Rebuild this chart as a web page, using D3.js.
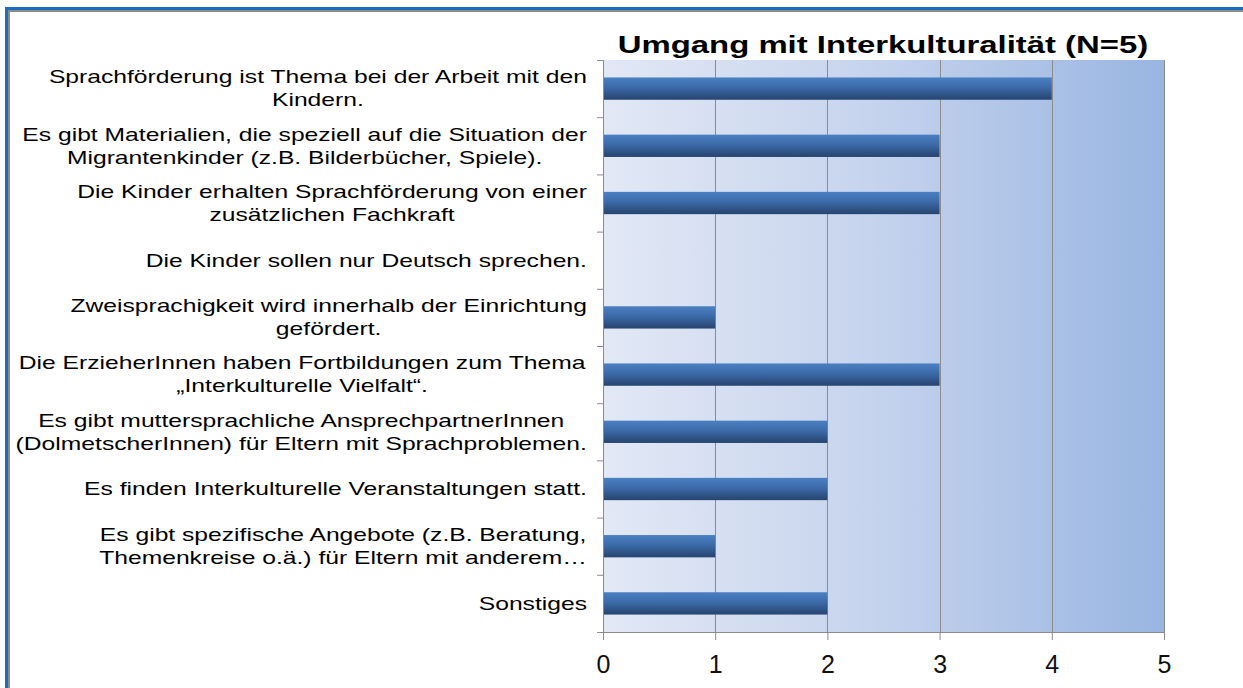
<!DOCTYPE html>
<html>
<head>
<meta charset="utf-8">
<script src="https://cdn.jsdelivr.net/npm/d3@7"></script>
<style>
  body { margin: 0; background: #fff; }
  svg { display: block; font-family: "Liberation Sans", Arial, sans-serif; }
</style>
</head>
<body>
<div id="chart"></div>
<script>
// Chart data
const chartTitle = 'Umgang mit Interkulturalität (N=5)';
const categories = [
  'Sprachförderung ist Thema bei der Arbeit mit den\nKindern.',
  'Es gibt Materialien, die speziell auf die Situation der\nMigrantenkinder (z.B. Bilderbücher, Spiele).',
  'Die Kinder erhalten Sprachförderung von einer\nzusätzlichen Fachkraft',
  'Die Kinder sollen nur Deutsch sprechen.',
  'Zweisprachigkeit wird innerhalb der Einrichtung\ngefördert.',
  'Die ErzieherInnen haben Fortbildungen zum Thema\n„Interkulturelle Vielfalt“.',
  'Es gibt muttersprachliche AnsprechpartnerInnen\n(DolmetscherInnen) für Eltern mit Sprachproblemen.',
  'Es finden Interkulturelle Veranstaltungen statt.',
  'Es gibt spezifische Angebote (z.B. Beratung,\nThemenkreise o.ä.) für Eltern mit anderem…',
  'Sonstiges',
];
const values = [4, 3, 3, 0, 1, 3, 2, 2, 1, 2];
const xTicks = [0, 1, 2, 3, 4, 5];

const width = 1243;
const height = 688;
const plot = { left: 603, right: 1164, top: 60, bottom: 632 };
const GRID_COLOR = '#8c8c8c';
const LABEL_STRETCH = 1.37; // reference text is drawn horizontally stretched
const TITLE_STRETCH = 1.37;

const svg = d3
  .select('#chart')
  .append('svg')
  .attr('width', width)
  .attr('height', height);

const defs = svg.append('defs');

// Plot area background: light to darker blue, left to right
const bgGrad = defs
  .append('linearGradient')
  .attr('id', 'bgGrad')
  .attr('x1', '0%')
  .attr('x2', '100%')
  .attr('y1', '0%')
  .attr('y2', '0%');
bgGrad.append('stop').attr('offset', '0%').attr('stop-color', '#e2e8f5');
bgGrad.append('stop').attr('offset', '45%').attr('stop-color', '#c8d5ee');
bgGrad.append('stop').attr('offset', '100%').attr('stop-color', '#99b5e2');

// Bars: lighter on top, dark at the bottom
const barGrad = defs
  .append('linearGradient')
  .attr('id', 'barGrad')
  .attr('x1', '0%')
  .attr('x2', '0%')
  .attr('y1', '0%')
  .attr('y2', '100%');
barGrad.append('stop').attr('offset', '0%').attr('stop-color', '#4a80c3');
barGrad.append('stop').attr('offset', '45%').attr('stop-color', '#3c6aa8');
barGrad.append('stop').attr('offset', '100%').attr('stop-color', '#26446f');

// Scales
const xscale = d3
  .scaleLinear()
  .domain([0, 5])
  .range([plot.left, plot.right]);

const yscale = d3
  .scaleBand()
  .domain(d3.range(categories.length))
  .range([plot.top, plot.bottom])
  .paddingInner(0.61)
  .paddingOuter(0.305);

// band boundaries, used for the left axis tick marks
const yedge = d3
  .scaleLinear()
  .domain([0, categories.length])
  .range([plot.top, plot.bottom]);

// Background
svg
  .append('rect')
  .attr('x', plot.left)
  .attr('y', plot.top)
  .attr('width', plot.right - plot.left)
  .attr('height', plot.bottom - plot.top)
  .attr('fill', 'url(#bgGrad)');

// Vertical gridlines
svg
  .append('g')
  .selectAll('line')
  .data(xTicks.slice(1))
  .enter()
  .append('line')
  .attr('x1', (d) => Math.round(xscale(d)) + 0.5)
  .attr('x2', (d) => Math.round(xscale(d)) + 0.5)
  .attr('y1', plot.top)
  .attr('y2', plot.bottom)
  .attr('stroke', GRID_COLOR);

// Bars
svg
  .append('g')
  .selectAll('rect')
  .data(values)
  .enter()
  .append('rect')
  .attr('x', xscale(0))
  .attr('y', (d, i) => yscale(i))
  .attr('width', (d) => xscale(d) - xscale(0))
  .attr('height', yscale.bandwidth())
  .attr('fill', 'url(#barGrad)');

// Left axis (ticks at band boundaries)
const yAxis = d3
  .axisLeft(yedge)
  .ticks(categories.length)
  .tickFormat('')
  .tickSize(6)
  .tickSizeOuter(6);
const yAxisG = svg
  .append('g')
  .attr('transform', `translate(${plot.left}, 0)`)
  .call(yAxis);
yAxisG.selectAll('path, line').attr('stroke', GRID_COLOR);

// Bottom axis
const xAxis = d3
  .axisBottom(xscale)
  .tickValues(xTicks)
  .tickFormat(d3.format('d'))
  .tickSize(8)
  .tickSizeOuter(0)
  .tickPadding(15);
const xAxisG = svg
  .append('g')
  .attr('transform', `translate(0, ${plot.bottom})`)
  .call(xAxis);
xAxisG.selectAll('path, line').attr('stroke', GRID_COLOR);
xAxisG
  .selectAll('text')
  .attr('fill', '#111')
  .style('font-size', '25px')
  .style('font-family', '"Liberation Sans", Arial, sans-serif');

// Category labels, right aligned next to the axis, lines centred in the block
const LINE_GAP = 23;
const labelRight = 587;
svg
  .append('g')
  .selectAll('text')
  .data(categories)
  .enter()
  .append('text')
  .attr('text-anchor', 'middle')
  .style('font-size', '18px')
  .attr('fill', '#000')
  .each(function (label, i) {
    const lines = label.split('\n');
    const text = d3.select(this);
    lines.forEach((line, k) => {
      text
        .append('tspan')
        .attr('x', 0)
        .attr('y', (k - (lines.length - 1) / 2) * LINE_GAP)
        .attr('dy', '0.35em')
        .text(line);
    });
    const box = this.getBBox();
    const cy = yscale(i) + yscale.bandwidth() / 2;
    const tx = labelRight - LABEL_STRETCH * (box.x + box.width);
    text.attr('transform', `translate(${tx}, ${cy}) scale(${LABEL_STRETCH}, 1)`);
  });

// Title
svg
  .append('text')
  .attr('text-anchor', 'middle')
  .attr('transform', `translate(883, 53) scale(${TITLE_STRETCH}, 1)`)
  .style('font-size', '24px')
  .style('font-weight', 'bold')
  .attr('fill', '#000')
  .text(chartTitle);

// Window frame: blue outer line, gray inner line
svg
  .append('path')
  .attr('d', `M6.5,${height}V8.5H${width}`)
  .attr('fill', 'none')
  .attr('stroke', '#1a6dc3')
  .attr('stroke-width', 3);
svg
  .append('path')
  .attr('d', `M9,${height}V11H${width}`)
  .attr('fill', 'none')
  .attr('stroke', '#8a8a8a')
  .attr('stroke-width', 2);
</script>
</body>
</html>
